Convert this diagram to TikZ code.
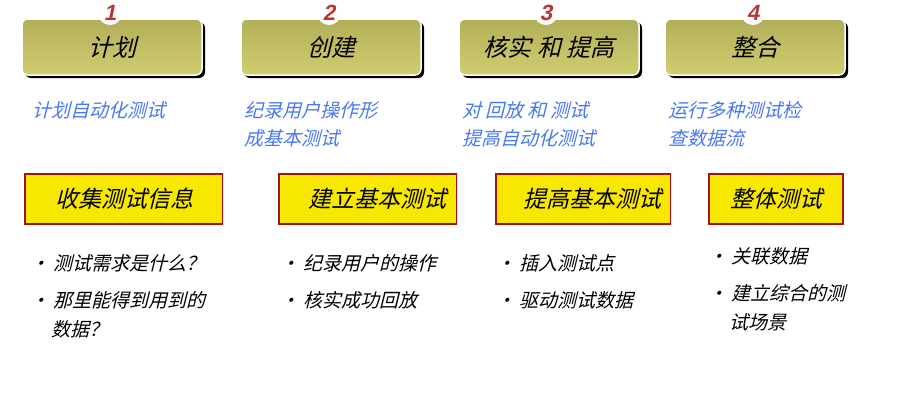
\documentclass[tikz,border=0pt]{standalone}
\usepackage{fontspec}
\newfontfamily\cjk[FakeSlant=0.25]{Noto Sans CJK SC}
\newfontfamily\numfont[FakeSlant=0.2]{Liberation Sans}
\usetikzlibrary{positioning,shadows}
\definecolor{olivetop}{RGB}{178,174,88}
\definecolor{olivebot}{RGB}{208,206,112}
\definecolor{stepblue}{RGB}{70,120,245}
\definecolor{taskred}{RGB}{160,20,20}
\definecolor{taskyellow}{RGB}{248,232,0}
\definecolor{numred}{RGB}{190,50,50}
\tikzset{
  phase/.style={rounded corners=6pt, top color=olivetop, bottom color=olivebot,
    draw=white, line width=1.5pt, minimum height=56pt, inner sep=0pt,
    drop shadow={shadow xshift=3pt, shadow yshift=-3pt, opacity=1, fill=black},
    font=\cjk\fontsize{24}{28}\selectfont},
  numdot/.style={circle, fill=white, minimum size=24pt, inner sep=0pt,
    text=numred, font=\numfont\bfseries\fontsize{22}{22}\selectfont},
  goal/.style={text=stepblue, align=left, anchor=north west, inner sep=0pt,
    font=\cjk\fontsize{19}{28}\selectfont},
  task/.style={draw=taskred, line width=2pt, fill=taskyellow, minimum height=50pt,
    inner sep=0pt, font=\cjk\fontsize{23}{26}\selectfont},
  item/.style={anchor=north west, inner sep=0pt, align=left,
    font=\cjk\fontsize{19}{29}\selectfont}
}
\begin{document}
\begin{tikzpicture}[x=1pt,y=-1pt]
\useasboundingbox (0,0) rectangle (901,410);
% phases
\node[phase, minimum width=180pt] (plan) at (112,47) {计划};
\node[phase, minimum width=180pt] (create) at (331,47) {创建};
\node[phase, minimum width=180pt] (verify) at (549,47) {核实 和 提高};
\node[phase, minimum width=180pt] (merge) at (755,47) {整合};
\node[numdot] (n1) at (110,13) {1};
\node[numdot] (n2) at (329,13) {2};
\node[numdot] (n3) at (546,13) {3};
\node[numdot] (n4) at (753,13) {4};
% goals
\node[goal] (g1) at (32,101) {计划自动化测试};
\node[goal] (g2) at (244,101) {纪录用户操作形\\成基本测试};
\node[goal] (g3) at (462,101) {对 回放 和  测试\\提高自动化测试};
\node[goal] (g4) at (668,101) {运行多种测试检\\查数据流};
% tasks
\begin{scope}
\clip (0,160) rectangle (223,240);
\node[task, minimum width=198pt, anchor=west] (t1) at (24,199) {收集测试信息};
\end{scope}
\begin{scope}
\clip (276,160) rectangle (457,240);
\node[task, minimum width=178pt, anchor=west] (t2) at (278,199) {\hspace*{4pt}建立基本测试\hspace*{-14pt}};
\end{scope}
\begin{scope}
\clip (493,160) rectangle (671,240);
\node[task, minimum width=175pt, anchor=west] (t3) at (495,199) {\hspace*{4pt}提高基本测试\hspace*{-14pt}};
\end{scope}
\node[task, minimum width=134pt, anchor=west] (t4) at (708,199) {整体测试};
% items
\begin{scope}
\clip (0,240) rectangle (236,400);
\node[item] (i1) at (30,254) {• 测试需求是什么？\\[8pt]• 那里能得到用到的\\\hspace*{1.1em}数据？};
\end{scope}
\begin{scope}
\clip (270,240) rectangle (461,400);
\node[item] (i2) at (280,254) {• 纪录用户的操作\\[8pt]• 核实成功回放};
\end{scope}
\node[item] (i3) at (496,254) {• 插入测试点\\[8pt]• 驱动测试数据};
\node[item] (i4) at (708,247) {• 关联数据\\[8pt]• 建立综合的测\\\hspace*{1.1em}试场景};
\end{tikzpicture}
\end{document}
